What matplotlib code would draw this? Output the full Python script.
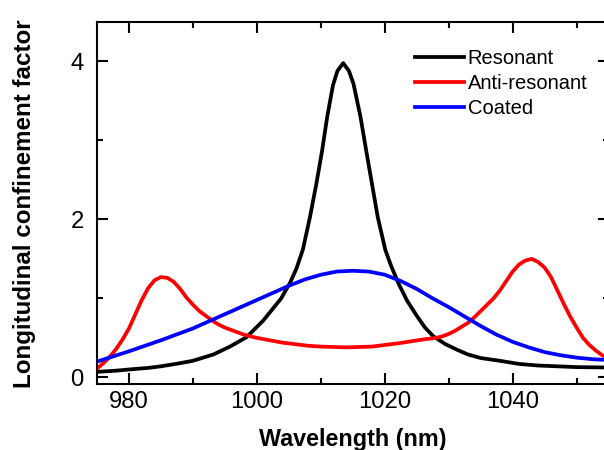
import matplotlib.pyplot as plt
from matplotlib.ticker import MultipleLocator

plt.rcParams['font.family'] = ['Liberation Sans', 'DejaVu Sans']

# Resonant (black)
res_x = [975, 978, 980, 983, 985, 988, 990, 993.2, 995.8, 998.4, 1001, 1003.8, 1005.2,
         1006.2, 1007.2, 1008.3, 1009.3, 1010.2, 1011.0, 1011.9, 1012.6, 1013.5, 1014.4,
         1015.1, 1016.2, 1017.1, 1018.0, 1018.9, 1020.1, 1021.0, 1022.2, 1023.5, 1025.0,
         1026.3, 1027.6, 1029.5, 1031.3, 1033, 1035, 1038, 1041, 1044, 1047, 1050, 1055]
res_y = [0.07, 0.085, 0.10, 0.12, 0.14, 0.18, 0.21, 0.29, 0.39, 0.51, 0.72, 1.0, 1.20,
         1.38, 1.62, 2.03, 2.45, 2.87, 3.30, 3.70, 3.88, 3.98, 3.88,
         3.72, 3.30, 2.87, 2.45, 2.03, 1.61, 1.41, 1.18, 0.97, 0.78,
         0.63, 0.52, 0.42, 0.35, 0.29, 0.245, 0.21, 0.17, 0.15, 0.14, 0.13, 0.125]

# Anti-resonant (red)
anti_x = [975, 976, 977, 978, 979, 980, 981, 982, 983, 984, 985, 986, 987, 988, 989, 990,
          991, 992, 993, 994, 995, 996, 998, 1000, 1002, 1004, 1006, 1008, 1010, 1012, 1014,
          1016, 1018, 1020, 1022, 1024, 1026, 1028, 1029, 1030, 1031, 1032, 1033, 1034, 1035,
          1036, 1037, 1038, 1039, 1040, 1041, 1042, 1043, 1044, 1045, 1046, 1047, 1048, 1049,
          1050, 1051, 1052, 1053, 1054, 1055]
anti_y = [0.11, 0.18, 0.26, 0.36, 0.48, 0.62, 0.80, 0.98, 1.13, 1.23, 1.27, 1.26, 1.21, 1.12, 1.01, 0.92,
          0.84, 0.78, 0.72, 0.67, 0.63, 0.60, 0.54, 0.50, 0.47, 0.44, 0.42, 0.40, 0.39, 0.385, 0.38,
          0.385, 0.39, 0.41, 0.43, 0.455, 0.48, 0.50, 0.52, 0.55, 0.59, 0.64, 0.69, 0.76, 0.84,
          0.92, 1.0, 1.1, 1.22, 1.34, 1.43, 1.48, 1.50, 1.46, 1.39, 1.27, 1.10, 0.93, 0.77,
          0.63, 0.50, 0.41, 0.34, 0.28, 0.24]

# Coated (blue)
coat_x = [975, 980, 985, 990, 995, 1000, 1005, 1007.5, 1010, 1012.5, 1015, 1017.5, 1020,
          1022.5, 1025, 1027.5, 1030, 1032.5, 1035, 1037.5, 1040, 1042.5, 1045, 1047.5,
          1050, 1052.5, 1055]
coat_y = [0.20, 0.33, 0.47, 0.62, 0.80, 0.98, 1.16, 1.24, 1.30, 1.34, 1.35, 1.34, 1.30,
          1.22, 1.12, 1.0, 0.89, 0.77, 0.65, 0.54, 0.45, 0.38, 0.32, 0.28,
          0.25, 0.23, 0.22]

fig = plt.figure(figsize=(6.04, 4.5), dpi=100)
ax = fig.add_axes([0.1606, 0.1456, 0.8470, 0.8055])

lw = 2.7
ax.plot(res_x, res_y, color='black', lw=lw, label='Resonant')
ax.plot(anti_x, anti_y, color='#ff0000', lw=lw, label='Anti-resonant')
ax.plot(coat_x, coat_y, color='#0000ff', lw=lw, label='Coated')

ax.set_xlim(975, 1055)
ax.set_ylim(-0.09, 4.5)
ax.xaxis.set_major_locator(MultipleLocator(20))
ax.xaxis.set_minor_locator(MultipleLocator(10))
ax.yaxis.set_major_locator(MultipleLocator(2))
ax.yaxis.set_minor_locator(MultipleLocator(1))

ax.tick_params(which='both', direction='in', top=True, right=True, width=1.5)
ax.tick_params(which='major', length=8)
ax.tick_params(which='minor', length=4.3)
ax.tick_params(axis='x', which='major', labelsize=17.2, pad=5)
ax.tick_params(axis='y', which='major', labelsize=17.2, pad=9.5)
for s in ax.spines.values():
    s.set_linewidth(1.5)

ax.set_xlabel('Wavelength (nm)', fontsize=16.8, fontweight='bold', labelpad=10.5)
ax.set_ylabel('Longitudinal confinement factor', fontsize=17.4, fontweight='bold', labelpad=25)

ax.legend(loc='upper left', bbox_to_anchor=(0.622, 0.925), frameon=False, fontsize=14.5,
          handlelength=2.4, handletextpad=0.2, labelspacing=0.3, borderpad=0,
          borderaxespad=0)

fig.savefig('out.png', dpi=100)
